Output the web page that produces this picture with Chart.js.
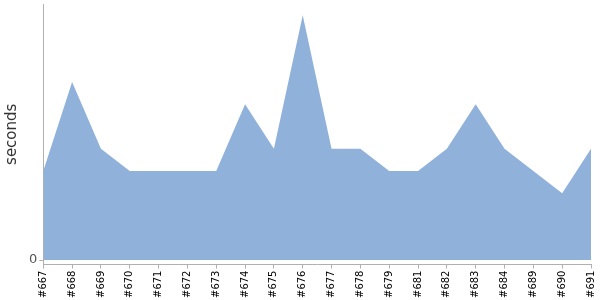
<!DOCTYPE html>
<html>
<head>
<meta charset="utf-8">
<script src="https://cdn.jsdelivr.net/npm/chart.js@4"></script>
<style>
  html, body { margin: 0; padding: 0; background: #fff; }
  #wrap { width: 600px; height: 300px; }
</style>
</head>
<body>
<div id="wrap"><canvas id="graficoTempo"></canvas></div>
<script>
// builds and their durations
const builds = ['#667', '#668', '#669', '#670', '#671', '#672', '#673', '#674', '#675', '#676',
                '#677', '#678', '#679', '#681', '#682', '#683', '#684', '#689', '#690', '#691'];
const seconds = [4, 8, 5, 4, 4, 4, 4, 7, 5, 11, 5, 5, 4, 4, 5, 7, 5, 4, 3, 5];
const yTicks = [0];

const axisColor = '#b0b0b0';

const ctx = document.getElementById('graficoTempo').getContext('2d');
new Chart(ctx, {
    type: 'line',
    data: {
        labels: builds,
        datasets: [{
            label: 'seconds',
            data: seconds,
            fill: 'origin',
            backgroundColor: 'rgb(143, 177, 218)',
            borderColor: 'rgb(143, 177, 218)',
            borderWidth: 0,
            pointRadius: 0,
            tension: 0
        }]
    },
    options: {
        responsive: true,
        maintainAspectRatio: false,
        animation: false,
        layout: { padding: { top: 4, right: 9, left: 3, bottom: 0 } },
        plugins: {
            legend: { display: false },
            tooltip: { enabled: false }
        },
        scales: {
            x: {
                afterFit: (scale) => { scale.paddingLeft = 0; scale.paddingRight = 0; },
                grid: { drawOnChartArea: false, tickLength: 4, color: axisColor },
                border: { color: axisColor },
                ticks: {
                    autoSkip: false,
                    maxRotation: 90,
                    minRotation: 90,
                    padding: 2,
                    color: '#000',
                    font: { family: 'DejaVu Sans', size: 10 }
                }
            },
            y: {
                min: -0.2,
                max: 11.5,
                afterBuildTicks: (scale) => { scale.ticks = yTicks.map(v => ({ value: v })); },
                afterFit: (scale) => { scale.paddingTop = 0; scale.paddingBottom = 0; },
                grid: { drawOnChartArea: false, tickLength: 4, color: axisColor },
                border: { color: axisColor },
                ticks: {
                    padding: 2,
                    color: '#555',
                    font: { family: 'DejaVu Sans', size: 13 }
                },
                title: {
                    display: true,
                    text: 'seconds',
                    color: '#333',
                    padding: { top: 0, bottom: 6 },
                    font: { family: 'DejaVu Sans', size: 15 }
                }
            }
        }
    }
});
</script>
</body>
</html>
